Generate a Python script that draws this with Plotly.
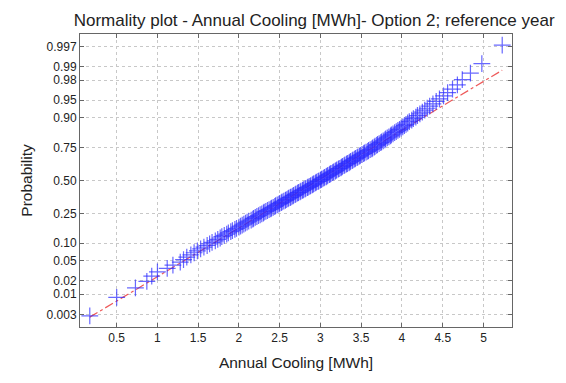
from statistics import NormalDist
import numpy as np
import plotly.graph_objects as go

# Annual cooling demand samples [MWh], sorted ascending
cooling_mwh = [
    0.17, 0.50, 0.73, 0.87, 0.93, 1.00, 1.12, 1.19, 1.28, 1.32,
    1.36, 1.41, 1.45, 1.49, 1.53, 1.57, 1.61, 1.64, 1.67, 1.71,
    1.74, 1.77, 1.79, 1.82, 1.85, 1.87, 1.90, 1.92, 1.95, 1.97,
    2.00, 2.02, 2.04, 2.06, 2.08, 2.10, 2.12, 2.15, 2.17, 2.18,
    2.20, 2.22, 2.24, 2.26, 2.28, 2.30, 2.31, 2.33, 2.35, 2.37,
    2.39, 2.40, 2.42, 2.44, 2.45, 2.47, 2.49, 2.50, 2.52, 2.53,
    2.55, 2.57, 2.58, 2.60, 2.61, 2.63, 2.64, 2.66, 2.67, 2.69,
    2.70, 2.72, 2.73, 2.75, 2.76, 2.78, 2.79, 2.81, 2.82, 2.84,
    2.85, 2.87, 2.88, 2.90, 2.91, 2.92, 2.94, 2.95, 2.97, 2.98,
    3.00, 3.01, 3.02, 3.04, 3.05, 3.07, 3.08, 3.09, 3.11, 3.12,
    3.13, 3.15, 3.16, 3.18, 3.19, 3.20, 3.22, 3.23, 3.25, 3.26,
    3.27, 3.29, 3.30, 3.32, 3.33, 3.35, 3.36, 3.37, 3.39, 3.40,
    3.42, 3.43, 3.45, 3.46, 3.48, 3.49, 3.51, 3.53, 3.54, 3.56,
    3.58, 3.59, 3.61, 3.63, 3.64, 3.66, 3.67, 3.69, 3.70, 3.72,
    3.74, 3.75, 3.77, 3.79, 3.80, 3.82, 3.84, 3.86, 3.87, 3.89,
    3.91, 3.93, 3.95, 3.97, 3.99, 4.01, 4.03, 4.05, 4.07, 4.09,
    4.12, 4.14, 4.17, 4.19, 4.22, 4.25, 4.28, 4.31, 4.34, 4.38,
    4.42, 4.46, 4.51, 4.56, 4.62, 4.68, 4.74, 4.84, 4.98, 5.23,
]

prob_ticks = [0.003, 0.01, 0.02, 0.05, 0.10, 0.25, 0.50, 0.75, 0.90, 0.95, 0.98, 0.99, 0.997]
prob_tick_text = ["0.003", "0.01", "0.02", "0.05", "0.10", "0.25", "0.50",
                  "0.75", "0.90", "0.95", "0.98", "0.99", "0.997"]
x_ticks = [0.5, 1, 1.5, 2, 2.5, 3, 3.5, 4, 4.5, 5]
x_tick_text = ["0.5", "1", "1.5", "2", "2.5", "3", "3.5", "4", "4.5", "5"]

nd = NormalDist()
data = np.sort(np.asarray(cooling_mwh))
n = len(data)
# plotting positions (i - 0.5)/n on the normal-probability (probit) scale
z_pos = [nd.inv_cdf((i - 0.5) / n) for i in range(1, n + 1)]

# reference line through the first and third quartiles, extended to the data range
q1, q3 = np.percentile(data, [25, 75])
z1, z3 = nd.inv_cdf(0.25), nd.inv_cdf(0.75)
slope = (z3 - z1) / (q3 - q1)
line_x = [data[0], data[-1]]
line_z = [z1 + slope * (x - q1) for x in line_x]

FONT = "Liberation Sans, Arial, sans-serif"
TXT = "#222222"

fig = go.Figure()
fig.add_trace(go.Scatter(
    x=line_x, y=line_z, mode="lines",
    line=dict(color="rgba(235,60,60,0.85)", width=1.2, dash="dashdot"),
    hoverinfo="skip", showlegend=False,
))
fig.add_trace(go.Scatter(
    x=data, y=z_pos, mode="markers",
    marker=dict(symbol="cross-thin", size=12,
                line=dict(color="rgba(40,40,255,0.7)", width=1.2)),
    showlegend=False,
))

axis_common = dict(
    showline=True, linecolor="#666666", linewidth=1, mirror="ticks",
    ticks="inside", ticklen=4, tickcolor="#666666",
    showgrid=True, gridcolor="#c8c8c8", griddash="dot", gridwidth=1,
    zeroline=False, tickfont=dict(family=FONT, size=12, color=TXT),
)

fig.update_layout(
    width=566, height=383,
    margin=dict(l=80, r=54, t=34, b=56),
    paper_bgcolor="white", plot_bgcolor="white",
    font=dict(family=FONT, color=TXT),
    title=dict(text="Normality plot - Annual Cooling [MWh]- Option 2; reference year",
               x=0.542, xref="paper", xanchor="center", y=0.962, yref="container",
               font=dict(family=FONT, size=17, color=TXT)),
    xaxis=dict(axis_common, range=[0.05, 5.35], tickvals=x_ticks, ticktext=x_tick_text,
               title=dict(text="Annual Cooling [MWh]", font=dict(family=FONT, size=15.5, color=TXT),
                          standoff=12)),
    yaxis=dict(axis_common, range=[-3.0, 3.0],
               tickvals=[nd.inv_cdf(p) for p in prob_ticks], ticktext=prob_tick_text,
               title=dict(text="Probability", font=dict(family=FONT, size=15.5, color=TXT),
                          standoff=10)),
)

fig.write_html("out.html")
